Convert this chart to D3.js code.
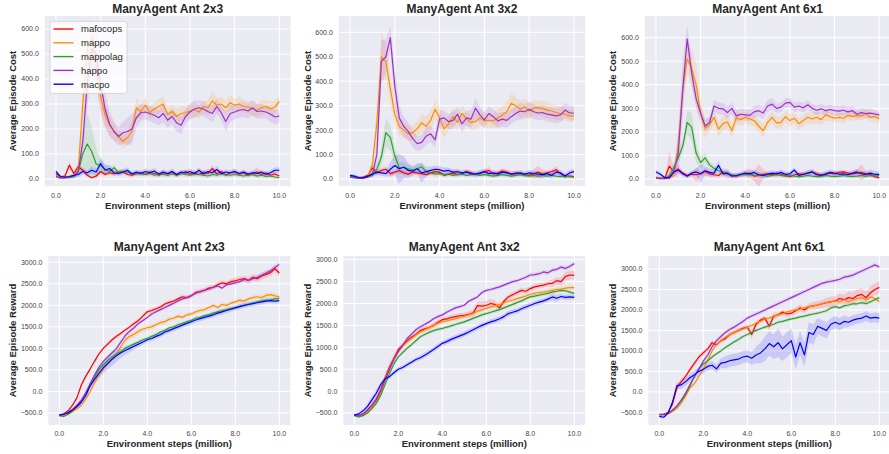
<!DOCTYPE html>
<html><head><meta charset="utf-8">
<script src="https://cdn.jsdelivr.net/npm/d3@7"></script>
<style>
body{margin:0;background:#fff}
svg{display:block}
text{font-family:"Liberation Sans",Arial,Helvetica,sans-serif}
</style>
</head><body>
<svg id="chart" width="889" height="454"></svg>
<script>
// ---------------- DATA ----------------
const steps = [0,0.2,0.4,0.6,0.8,1.0,1.2,1.4,1.6,1.8,2.0,2.2,2.4,2.6,2.8,3.0,3.2,3.4,3.6,3.8,4.0,4.2,4.4,4.6,4.8,5.0,5.2,5.4,5.6,5.8,6.0,6.2,6.4,6.6,6.8,7.0,7.2,7.4,7.6,7.8,8.0,8.2,8.4,8.6,8.8,9.0,9.2,9.4,9.6,9.8,10.0];
const algorithms = ["mafocops","mappo","mappolag","happo","macpo"];
const titles = ["ManyAgent Ant 2x3","ManyAgent Ant 3x2","ManyAgent Ant 6x1"];
const xTicks = [0,2,4,6,8,10];
const costTicks = [0,100,200,300,400,500,600];
const rewardTicks = [-500,0,500,1000,1500,2000,2500,3000];

// ---- cost, 2x3 ----
const c23_mafocops = [20,8,12,55,22,50,35,15,5,12, 30,18,25,20,28,30,18,15,22,25, 18,28,22,15,25,20,28,15,22,30, 20,25,18,28,22,42,20,30,15,25, 28,20,25,15,22,28,18,25,15,20, 12];
const c23_mappo    = [15,8,5,8,12,40,300,520,565,450, 330,255,215,190,170,150,165,190,285,270, 295,265,280,290,300,258,270,250,262,265, 272,278,268,290,285,312,295,300,285,305, 295,300,290,288,280,275,285,290,280,288, 310];
const c23_mappolag = [10,3,5,5,8,30,100,140,110,60, 52,40,30,45,25,30,28,22,20,22, 18,22,15,20,18,15,20,17,22,18, 15,20,18,15,12,18,15,20,17,15, 18,15,12,15,18,12,15,10,12,8, 5];
const c23_happo    = [10,5,5,8,12,30,150,380,520,500, 380,280,220,190,170,185,190,200,245,265, 268,262,255,245,262,235,250,225,215,250, 268,280,285,280,270,262,290,265,230,262, 268,275,278,272,285,270,272,268,260,248, 252];
const c23_macpo    = [30,10,8,10,15,18,30,25,35,28, 62,35,42,25,22,28,35,20,28,22, 30,25,32,20,28,22,30,18,28,24, 30,22,35,20,30,25,38,22,28,25, 30,22,28,20,25,22,28,18,25,35, 35];
const c23_mafocops_sd = [5,5,5,15,10,15,10,8,5,5, 10,8,8,8,10,10,8,8,8,10, 8,10,8,8,10,8,10,8,8,10, 8,10,8,10,8,15,8,10,8,8, 10,8,10,8,8,20,8,10,8,10, 8];
const c23_mappo_sd    = [5,5,5,5,5,20,80,120,60,80, 70,50,40,30,25,25,30,40,40,30, 30,25,25,30,30,25,25,30,30,25, 30,30,25,25,30,40,30,30,25,30, 25,30,25,25,30,25,30,25,30,25, 20];
const c23_mappolag_sd = [5,3,3,3,5,20,60,120,100,60, 30,20,15,15,10,10,10,8,8,8, 8,8,8,8,8,8,8,8,8,8, 8,8,8,8,8,8,8,8,8,8, 8,8,8,8,8,8,8,8,8,8, 5];
const c23_happo_sd    = [5,5,5,5,5,15,50,100,80,110, 110,70,50,40,35,45,55,60,40,35, 30,30,30,30,35,30,30,35,35,30, 30,35,30,30,30,35,30,30,40,35, 30,30,30,30,30,30,30,25,30,30, 25];
const c23_macpo_sd    = [8,5,5,5,8,10,12,10,15,12, 25,20,15,10,10,10,12,10,10,10, 12,10,12,10,10,10,12,10,10,10, 12,10,12,10,10,10,15,10,10,10, 12,10,10,10,10,10,10,10,10,12, 12];

// ---- cost, 3x2 ----
const c32_mafocops = [12,8,5,8,15,45,25,35,40,22, 28,35,25,20,28,25,22,18,25,30, 28,15,20,25,18,22,30,25,18,22, 30,35,20,25,32,28,20,25,22,18, 15,22,28,20,25,30,38,22,10,12, 10];
const c32_mappo    = [10,8,5,5,10,60,230,500,480,370, 265,215,200,185,190,205,230,215,240,285, 250,205,225,255,232,268,245,232,235,250, 238,240,238,250,262,275,310,300,285,295, 278,290,292,288,282,278,272,268,265,258, 258];
const c32_mappolag = [8,5,3,5,8,15,40,90,190,170, 95,45,48,42,38,42,50,30,25,20, 22,18,20,15,18,20,15,18,20,15, 18,15,12,15,18,15,12,15,18,15, 12,15,12,15,12,15,12,10,12,10, 8];
const c32_happo    = [10,8,5,5,8,20,100,480,500,578, 380,250,215,195,165,145,150,175,185,160, 245,250,235,240,265,225,250,245,290,262, 242,268,255,238,245,240,255,268,278,275, 285,275,270,272,265,262,258,262,282,270, 270];
const c32_macpo    = [15,12,5,5,12,20,28,25,22,40, 55,42,48,35,32,42,25,30,35,40, 38,32,35,28,30,25,28,22,20,25, 30,22,25,20,28,25,20,22,25,20, 25,22,20,18,22,15,28,25,12,25, 30];
const c32_mafocops_sd = [5,5,5,5,8,20,10,10,12,10, 10,12,10,8,8,10,8,8,10,10, 10,8,8,10,8,8,10,10,8,8, 12,15,10,10,12,10,8,10,8,8, 8,20,25,20,10,10,15,10,8,8, 5];
const c32_mappo_sd    = [5,5,5,5,5,20,80,100,70,60, 50,35,30,30,30,30,35,40,40,40, 45,35,30,35,30,35,30,30,35,30, 30,30,30,35,35,40,40,35,35,35, 35,30,30,30,35,30,30,30,25,25, 25];
const c32_mappolag_sd = [3,3,3,3,3,10,20,40,60,50, 40,25,20,15,12,20,15,10,10,10, 10,8,8,8,8,8,8,8,8,8, 8,8,8,8,8,8,8,8,8,8, 8,8,8,8,8,8,8,8,8,8, 5];
const c32_happo_sd    = [5,5,5,5,5,10,50,90,70,50, 70,50,40,35,35,30,30,35,35,30, 35,30,30,35,30,35,30,35,40,35, 30,30,30,30,30,30,30,30,35,30, 30,30,30,30,30,30,30,30,30,30, 30];
const c32_macpo_sd    = [8,8,5,5,8,10,12,12,12,30, 40,60,45,30,20,20,40,20,15,15, 15,15,12,12,12,12,12,12,12,12, 12,12,12,12,12,12,12,12,12,12, 12,12,12,12,12,12,12,12,12,12, 12];

// ---- cost, 6x1 ----
const c61_mafocops = [5,2,5,55,30,42,25,15,20,18, 22,32,22,18,15,30,22,15,12,18, 22,25,12,15,20,22,18,25,20,15, 10,18,22,20,25,30,22,18,20,25, 22,28,30,25,22,25,28,22,20,10, 5];
const c61_mappo    = [8,5,3,5,15,150,380,510,470,400, 280,215,230,262,212,235,242,205,260,252, 262,255,248,225,205,240,262,238,240,265, 248,258,235,248,262,255,262,252,272,265, 258,262,258,270,265,270,268,278,262,265, 255];
const c61_mappolag = [5,3,3,15,50,90,140,240,220,110, 70,90,60,45,35,28,22,18,15,18, 20,18,15,18,15,12,15,18,15,12, 15,12,10,12,15,12,10,12,15,12, 10,12,15,12,10,12,15,12,15,12, 15];
const c61_happo    = [5,3,2,10,30,110,380,595,450,340, 280,225,240,310,300,298,282,300,268,275, 272,270,285,290,280,310,318,300,305,322, 325,305,310,302,315,300,292,298,290,295, 290,288,292,285,290,275,282,278,280,276, 272];
const c61_macpo    = [30,20,5,5,30,38,22,12,25,30, 22,35,28,25,58,22,25,12,15,20, 25,22,28,18,15,20,25,22,28,20, 22,38,15,20,25,30,18,15,22,28, 25,20,22,18,25,30,22,20,25,20, 20];
const c61_mafocops_sd = [5,5,5,60,20,20,10,10,10,30, 10,15,15,10,10,15,20,10,10,10, 15,20,20,50,20,10,10,10,10,10, 10,10,10,10,10,10,10,10,10,10, 10,10,10,10,10,15,35,15,10,8, 5];
const c61_mappo_sd    = [5,5,5,5,10,40,80,60,80,90, 60,40,30,30,30,30,30,30,30,25, 25,25,25,25,30,25,25,25,25,25, 25,25,25,25,25,25,25,25,25,20, 20,20,20,20,20,20,20,20,20,20, 20];
const c61_mappolag_sd = [3,3,3,10,20,25,30,50,60,40, 25,20,15,15,12,10,10,8,8,8, 8,8,8,8,8,8,8,8,8,8, 8,8,8,8,8,8,8,8,8,8, 8,8,8,8,8,8,8,8,8,8, 5];
const c61_happo_sd    = [5,5,5,5,20,100,130,60,50,40, 30,25,25,25,25,25,25,25,25,25, 25,25,25,25,25,25,25,20,20,20, 20,20,20,20,20,20,20,20,20,20, 20,20,20,20,20,20,20,20,20,15, 15];
const c61_macpo_sd    = [10,10,5,5,10,10,10,10,10,15, 40,20,15,15,20,12,12,10,10,10, 12,12,12,12,12,12,12,12,12,12, 12,12,12,12,12,12,12,12,12,12, 12,12,12,12,12,12,12,12,15,15, 12];

// ---- reward, 2x3 ----
const r23_mafocops = [-550,-520,-450,-320,-150,150,350,520,700,870, 1000,1100,1200,1280,1350,1430,1500,1580,1650,1750, 1850,1880,1920,1960,2030,2070,2100,2150,2200,2180, 2220,2300,2320,2350,2400,2420,2480,2520,2500,2550, 2570,2600,2620,2580,2650,2620,2680,2720,2760,2850, 2750];
const r23_mappo    = [-560,-560,-530,-470,-400,-320,-180,0,200,380, 520,650,750,880,1050,1200,1280,1330,1400,1450, 1480,1500,1550,1600,1620,1680,1700,1750,1720,1780, 1800,1850,1880,1900,1950,2000,1950,2020,2000,2050, 2080,2120,2100,2150,2180,2200,2180,2230,2250,2220, 2200];
const r23_mappolag = [-560,-580,-530,-450,-350,-220,-50,150,330,500, 620,720,800,870,930,1000,1050,1100,1150,1200, 1230,1280,1320,1380,1420,1480,1500,1550,1580,1620, 1650,1700,1720,1760,1780,1820,1850,1880,1900,1930, 1950,1980,2000,2030,2050,2080,2100,2120,2130,2150, 2160];
const r23_happo    = [-560,-530,-480,-420,-320,-200,-30,180,380,560, 700,800,900,1000,1150,1300,1400,1480,1580,1650, 1720,1800,1850,1900,1950,2000,2050,2100,2150,2180, 2230,2280,2320,2350,2380,2420,2450,2400,2480,2500, 2520,2550,2600,2580,2620,2650,2700,2750,2800,2880, 2950];
const r23_macpo    = [-550,-530,-500,-430,-350,-250,-100,130,280,420, 550,650,750,830,900,950,1000,1050,1100,1150, 1200,1230,1280,1320,1380,1420,1460,1500,1540,1580, 1620,1660,1690,1720,1750,1780,1820,1850,1880,1910, 1940,1970,2000,2020,2040,2060,2080,2100,2110,2100, 2110];
const r23_mafocops_sd = [20,20,20,30,40,40,40,40,40,40, 40,40,40,40,40,40,50,50,50,50, 50,50,50,50,50,50,50,50,50,50, 50,60,60,60,60,60,60,60,60,70, 70,70,70,80,80,80,80,80,80,80, 80];
const r23_mappo_sd    = [20,20,20,30,30,40,50,60,60,60, 60,60,70,70,70,70,80,80,80,70, 70,60,60,60,60,50,50,50,50,50, 50,50,50,50,50,50,50,50,50,50, 50,50,50,50,50,60,60,60,60,60, 60];
const r23_mappolag_sd = [20,20,20,30,30,40,40,40,40,40, 40,40,40,40,40,40,40,40,40,40, 40,40,40,40,40,40,40,40,40,40, 40,40,40,40,40,40,40,40,40,40, 40,40,40,40,40,40,40,40,40,40, 40];
const r23_happo_sd    = [20,20,20,30,30,40,40,40,40,40, 40,40,40,40,40,40,40,40,40,40, 40,40,40,40,40,40,40,40,40,40, 40,40,40,40,40,40,40,40,40,40, 40,50,50,50,50,60,60,60,60,60, 60];
const r23_macpo_sd    = [20,20,20,30,40,50,60,80,100,120, 130,140,150,140,120,100,90,80,70,60, 60,60,60,60,60,60,60,60,60,60, 60,60,60,60,60,60,60,60,60,60, 60,60,60,60,60,60,60,60,60,60, 60];

// ---- reward, 3x2 ----
const r32_mafocops = [-550,-560,-520,-430,-320,-180,30,300,550,750, 950,1050,1150,1230,1300,1380,1420,1450,1500,1570, 1630,1650,1680,1700,1720,1730,1750,1780,1950,1940, 1960,2000,1980,1900,2050,2150,2200,2250,2300,2280, 2340,2380,2400,2420,2450,2460,2520,2500,2620,2650, 2640];
const r32_mappo    = [-550,-580,-550,-480,-380,-250,-50,250,500,720, 900,1020,1120,1200,1280,1350,1400,1450,1500,1550, 1580,1600,1630,1650,1680,1710,1740,1770,1820,1850, 1890,1920,1950,1980,2010,2050,2080,2110,2140,2170, 2210,2230,2250,2260,2280,2300,2320,2330,2350,2360, 2360];
const r32_mappolag = [-560,-590,-560,-500,-400,-280,-100,150,400,620, 780,880,980,1060,1150,1240,1290,1340,1380,1410, 1430,1460,1490,1520,1550,1580,1620,1660,1700,1740, 1770,1800,1830,1860,1900,1940,1980,2020,2060,2110, 2150,2170,2190,2210,2230,2260,2280,2300,2290,2260, 2230];
const r32_happo    = [-550,-560,-520,-440,-330,-200,0,250,500,720, 900,1050,1200,1300,1400,1470,1520,1580,1650,1700, 1740,1800,1850,1900,1930,1960,2050,2100,2150,2250, 2300,2320,2350,2380,2420,2460,2500,2520,2560,2600, 2650,2660,2680,2720,2700,2760,2780,2830,2800,2850, 2910];
const r32_macpo    = [-550,-520,-450,-350,-200,-50,150,280,330,420, 500,540,600,660,720,760,820,880,950,1020, 1090,1130,1180,1220,1260,1300,1350,1400,1450,1500, 1540,1580,1610,1650,1700,1770,1800,1830,1880,1920, 1960,2000,2030,2060,2100,2150,2120,2160,2140,2150, 2140];
const r32_mafocops_sd = [20,20,20,30,40,60,80,100,100,80, 60,60,60,60,60,60,60,60,60,60, 60,60,60,60,60,60,70,80,100,100, 100,100,80,80,60,60,60,60,60,60, 60,60,60,60,60,80,80,100,100,100, 100];
const r32_mappo_sd    = [20,20,20,30,30,40,50,60,60,60, 50,50,50,50,50,50,50,50,50,50, 50,50,50,50,50,50,50,50,50,50, 50,50,50,50,50,50,50,50,50,50, 50,50,50,50,50,50,60,60,60,60, 60];
const r32_mappolag_sd = [20,20,20,30,30,40,40,40,40,40, 40,40,40,40,40,40,40,40,40,40, 40,40,40,40,40,40,40,40,40,40, 40,40,40,40,40,40,40,40,40,40, 40,40,40,40,40,40,40,40,40,40, 40];
const r32_happo_sd    = [20,20,20,30,40,50,60,60,60,50, 40,40,40,40,40,40,40,40,40,40, 40,40,40,40,40,40,40,40,40,40, 40,40,40,40,40,40,40,40,40,50, 50,50,50,50,50,50,50,50,50,50, 50];
const r32_macpo_sd    = [30,30,40,60,80,80,60,50,50,50, 50,50,50,50,50,50,60,60,60,60, 60,60,60,60,60,60,60,60,60,60, 60,60,60,60,60,60,60,60,60,60, 60,60,60,60,60,80,80,60,60,60, 60];

// ---- reward, 6x1 ----
const r61_mafocops = [-550,-550,-500,-300,100,250,380,550,700,850, 950,1050,1200,1150,1250,1300,1400,1450,1500,1550, 1580,1400,1650,1750,1800,1600,1850,1880,1950,1900, 1920,1980,2050,2000,2080,2100,2120,2150,2180,2200, 2220,2280,2250,2300,2280,2350,2380,2300,2420,2500, 2550];
const r61_mappo    = [-560,-560,-540,-480,-400,-280,-100,100,200,380, 550,780,1000,1150,1250,1330,1400,1450,1500,1530, 1580,1620,1680,1720,1780,1800,1850,1880,1900,1950, 1980,2000,2020,2050,2080,2100,2120,2150,2180,2200, 2220,2200,2250,2200,2250,2280,2300,2250,2320,2280, 2200];
const r61_mappolag = [-560,-560,-530,-450,-350,-220,-50,150,380,560, 680,760,850,930,1000,1080,1150,1220,1280,1350, 1400,1450,1500,1540,1580,1620,1650,1700,1720,1750, 1780,1800,1830,1850,1880,1900,1920,1950,1980,2050, 2080,2050,2100,2120,2150,2150,2180,2150,2200,2250, 2300];
const r61_happo    = [-560,-550,-520,-450,-350,-200,-30,180,380,560, 750,900,1100,1250,1350,1450,1520,1580,1650,1720, 1800,1850,1900,1950,2000,2050,2100,2150,2200,2250, 2300,2350,2400,2450,2500,2550,2600,2650,2680,2700, 2720,2750,2800,2820,2850,2900,2950,3000,3050,3100, 3050];
const r61_macpo    = [-600,-620,-520,-250,150,170,250,350,420,500, 550,620,650,560,700,720,760,780,800,850, 870,820,900,950,1050,1180,1100,1200,1050,1150, 1250,850,1200,900,1450,1400,1600,1550,1500,1650, 1700,1650,1720,1700,1750,1780,1800,1850,1800,1820, 1800];
const r61_mafocops_sd = [20,20,20,40,80,80,60,60,60,60, 60,60,60,60,60,60,60,60,60,60, 60,100,80,60,60,100,80,60,60,80, 80,80,80,80,80,100,100,100,120,120, 120,120,120,150,150,150,150,150,150,150, 150];
const r61_mappo_sd    = [20,20,20,30,30,40,40,40,40,40, 40,40,40,40,40,40,40,40,40,40, 40,40,40,40,40,40,40,40,40,40, 40,40,40,40,40,40,40,40,40,40, 40,40,40,40,40,40,40,40,40,40, 40];
const r61_mappolag_sd = [20,20,20,30,30,40,40,40,40,40, 40,40,40,40,40,40,40,40,40,40, 40,40,40,40,40,40,40,40,40,40, 40,40,40,40,40,40,40,40,40,40, 40,40,40,40,40,40,40,40,40,40, 40];
const r61_happo_sd    = [20,20,20,30,40,50,50,50,50,50, 50,50,50,50,50,50,50,50,50,50, 50,50,50,50,50,50,50,50,50,50, 50,50,50,50,50,50,50,50,50,50, 50,50,50,50,50,50,50,50,50,50, 50];
const r61_macpo_sd    = [30,30,30,60,80,100,100,100,100,100, 100,100,100,100,120,150,150,150,150,150, 150,150,200,250,300,300,300,350,300,300, 300,300,300,300,250,250,200,200,200,150, 150,150,150,120,120,120,120,120,120,120, 120];

// tables built from the arrays above
const panelSeries = {
  c23: [c23_mafocops,c23_mappo,c23_mappolag,c23_happo,c23_macpo],
  c32: [c32_mafocops,c32_mappo,c32_mappolag,c32_happo,c32_macpo],
  c61: [c61_mafocops,c61_mappo,c61_mappolag,c61_happo,c61_macpo],
  r23: [r23_mafocops,r23_mappo,r23_mappolag,r23_happo,r23_macpo],
  r32: [r32_mafocops,r32_mappo,r32_mappolag,r32_happo,r32_macpo],
  r61: [r61_mafocops,r61_mappo,r61_mappolag,r61_happo,r61_macpo]
};
const panelBands = {
  c23: [c23_mafocops_sd,c23_mappo_sd,c23_mappolag_sd,c23_happo_sd,c23_macpo_sd],
  c32: [c32_mafocops_sd,c32_mappo_sd,c32_mappolag_sd,c32_happo_sd,c32_macpo_sd],
  c61: [c61_mafocops_sd,c61_mappo_sd,c61_mappolag_sd,c61_happo_sd,c61_macpo_sd],
  r23: [r23_mafocops_sd,r23_mappo_sd,r23_mappolag_sd,r23_happo_sd,r23_macpo_sd],
  r32: [r32_mafocops_sd,r32_mappo_sd,r32_mappolag_sd,r32_happo_sd,r32_macpo_sd],
  r61: [r61_mafocops_sd,r61_mappo_sd,r61_mappolag_sd,r61_happo_sd,r61_macpo_sd]
};

// ---------------- STYLE / LAYOUT ----------------
const colors = ["#ff0000","#ff8c00","#2ca02c","#9932cc","#0000ff"];
const layout = [
  {key:"c23", title:titles[0], ylab:"Average Episode Cost", ticks:costTicks, xr:[44.8,290.5], yr:[186,16], yd:[-28,652], ylx:12.7, ty:13, xty:197.5, xly:208.5, legend:true},
  {key:"c32", title:titles[1], ylab:"Average Episode Cost", ticks:costTicks, xr:[338.8,585.2], yr:[186,16], yd:[-28.6,666.7], ylx:307.7, ty:13, xty:197.5, xly:208.5},
  {key:"c61", title:titles[2], ylab:"Average Episode Cost", ticks:costTicks, xr:[644.8,890.4], yr:[186,16], yd:[-29.7,692], ylx:612.7, ty:13, xty:197.5, xly:208.5},
  {key:"r23", title:titles[0], ylab:"Average Episode Reward", ticks:rewardTicks, xr:[48.3,290.3], yr:[425,256], yd:[-779,3146], ylx:12.7, ty:251, xty:436, xly:446.5},
  {key:"r32", title:titles[1], ylab:"Average Episode Reward", ticks:rewardTicks, xr:[343.3,585.3], yr:[425,256], yd:[-774,3084], ylx:307.7, ty:251, xty:436, xly:446.5},
  {key:"r61", title:titles[2], ylab:"Average Episode Reward", ticks:rewardTicks, xr:[648.3,890.3], yr:[425,256], yd:[-810,3317], ylx:612.7, ty:251, xty:436, xly:446.5}
];

const svg = d3.select("#chart");
const fmt = d3.format(".1f");
const textCol = "#262626";

layout.forEach((p, pi) => {
  const x = d3.scaleLinear().domain([-0.5, 10.5]).range(p.xr);
  const y = d3.scaleLinear().domain(p.yd).range(p.yr);
  const g = svg.append("g");
  const clipId = "clip" + pi;
  svg.append("clipPath").attr("id", clipId).append("rect")
    .attr("x", p.xr[0]).attr("y", p.yr[1])
    .attr("width", p.xr[1] - p.xr[0]).attr("height", p.yr[0] - p.yr[1]);

  g.append("rect").attr("x", p.xr[0]).attr("y", p.yr[1])
    .attr("width", p.xr[1] - p.xr[0]).attr("height", p.yr[0] - p.yr[1])
    .attr("fill", "#eaeaf2");

  // grid
  g.selectAll(".gx").data(xTicks).enter().append("line")
    .attr("x1", d => x(d)).attr("x2", d => x(d))
    .attr("y1", p.yr[1]).attr("y2", p.yr[0])
    .attr("stroke", "#fff").attr("stroke-width", 1);
  g.selectAll(".gy").data(p.ticks).enter().append("line")
    .attr("x1", p.xr[0]).attr("x2", p.xr[1])
    .attr("y1", d => y(d)).attr("y2", d => y(d))
    .attr("stroke", "#fff").attr("stroke-width", 1);

  const plot = g.append("g").attr("clip-path", `url(#${clipId})`);
  const series = panelSeries[p.key];
  const bands = panelBands[p.key];

  series.forEach((vals, si) => {
    const pts = vals.map((v, i) => ({x: steps[i], v: v, s: bands[si][i]}));
    const area = d3.area().x(d => x(d.x)).y0(d => y(d.v - d.s)).y1(d => y(d.v + d.s));
    plot.append("path").datum(pts).attr("d", area)
      .attr("fill", colors[si]).attr("fill-opacity", 0.14).attr("stroke", "none");
  });
  series.forEach((vals, si) => {
    const pts = vals.map((v, i) => ({x: steps[i], v: v}));
    const line = d3.line().x(d => x(d.x)).y(d => y(d.v));
    plot.append("path").datum(pts).attr("d", line)
      .attr("fill", "none").attr("stroke", colors[si])
      .attr("stroke-width", 1.2).attr("stroke-linejoin", "round");
  });

  // tick labels
  g.selectAll(".tx").data(xTicks).enter().append("text")
    .attr("x", d => x(d)).attr("y", p.xty)
    .attr("text-anchor", "middle").attr("font-size", 7).attr("fill", "#444")
    .text(d => fmt(d));
  g.selectAll(".ty").data(p.ticks).enter().append("text")
    .attr("x", p.xr[0] - 6).attr("y", d => y(d)).attr("dy", "0.35em")
    .attr("text-anchor", "end").attr("font-size", 7).attr("fill", "#444")
    .text(d => fmt(d));

  // titles & labels
  g.append("text").attr("x", (p.xr[0] + p.xr[1]) / 2).attr("y", p.ty)
    .attr("text-anchor", "middle").attr("font-size", 12).attr("font-weight", "bold")
    .attr("fill", textCol).text(p.title);
  g.append("text").attr("x", (p.xr[0] + p.xr[1]) / 2).attr("y", p.xly)
    .attr("text-anchor", "middle").attr("font-size", 9.5).attr("font-weight", "bold")
    .attr("fill", textCol).text("Environment steps (million)");
  const cy = (p.yr[0] + p.yr[1]) / 2;
  g.append("text").attr("transform", `translate(${p.ylx},${cy}) rotate(-90)`)
    .attr("dy", "0.35em").attr("text-anchor", "middle").attr("font-size", 9.5)
    .attr("font-weight", "bold").attr("fill", textCol).text(p.ylab);

  if (p.legend) {
    const lg = g.append("g");
    lg.append("rect").attr("x", 50).attr("y", 21.5).attr("width", 77).attr("height", 72)
      .attr("rx", 2.5).attr("fill", "#fff").attr("fill-opacity", 0.8)
      .attr("stroke", "#d0d0d0").attr("stroke-width", 0.8);
    algorithms.forEach((name, i) => {
      const ly = 29 + i * 13.8;
      lg.append("line").attr("x1", 53.5).attr("x2", 73.5).attr("y1", ly).attr("y2", ly)
        .attr("stroke", colors[i]).attr("stroke-width", 1.4);
      lg.append("text").attr("x", 81).attr("y", ly).attr("dy", "0.35em")
        .attr("font-size", 9.5).attr("fill", textCol).text(name);
    });
  }
});
</script>
</body></html>
